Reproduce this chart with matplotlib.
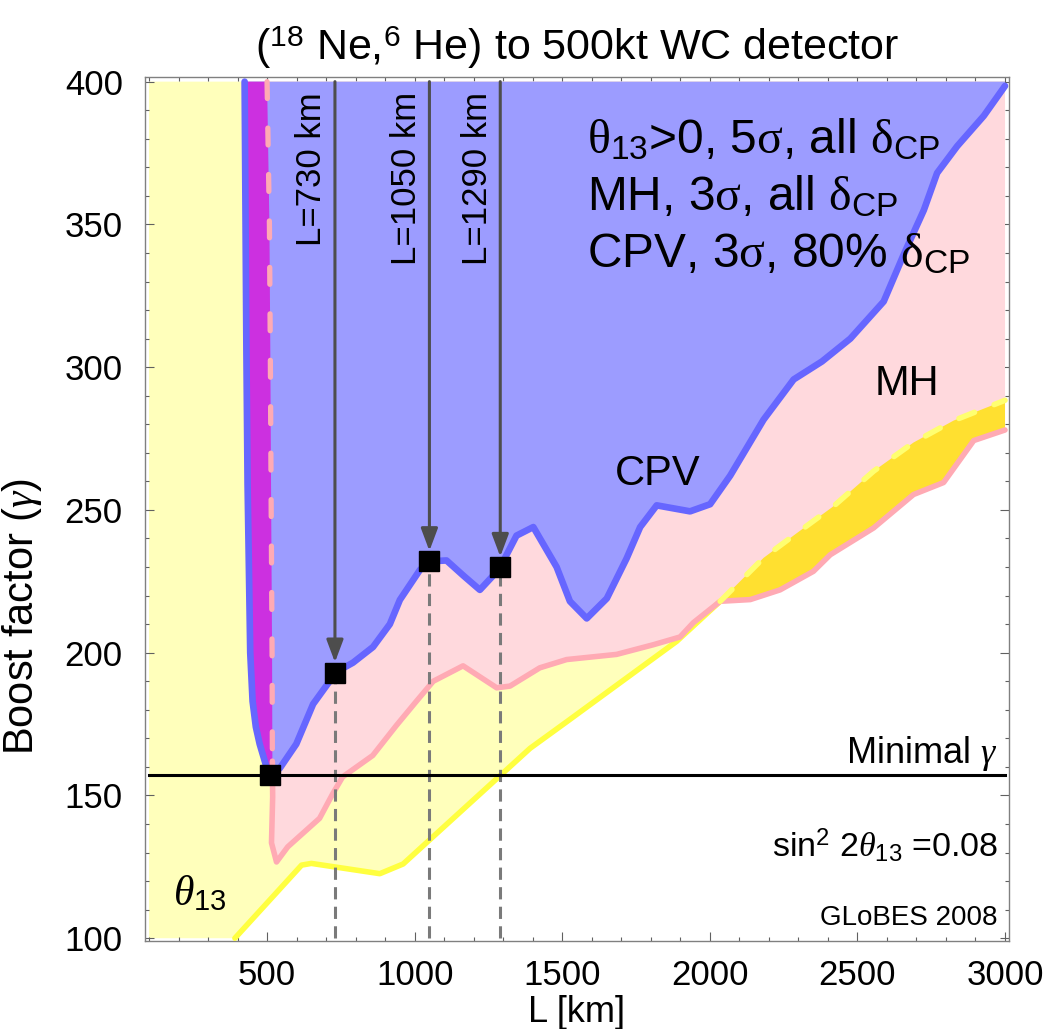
"""Beta-beam boost factor vs baseline: discovery regions (GLoBES style)."""

import matplotlib

matplotlib.use("Agg")
import matplotlib.pyplot as plt

plt.rcParams["font.family"] = ["Liberation Sans", "DejaVu Sans"]
plt.rcParams["mathtext.fontset"] = "custom"
plt.rcParams["mathtext.rm"] = "Liberation Sans"
plt.rcParams["mathtext.it"] = "Liberation Serif:italic"
plt.rcParams["mathtext.sf"] = "Liberation Serif"
plt.rcParams["mathtext.bf"] = "Liberation Sans:bold"

# --- data ---
baselines = [730, 1050, 1290]
gamma_at_baseline = [193, 232, 230]
corner_L, corner_gamma = 510, 157
gamma_min = 157

# CPV (3 sigma, 80% dCP) boundary: steep left edge, then the wiggly right edge
cpv_left_L = [424, 430, 434, 443, 451, 462, 475, 498, 510]
cpv_left_g = [400, 306, 259, 200, 183, 174, 168, 160, 157]
cpv_right_L = [510, 543, 599, 656, 712, 730, 791, 859, 916, 950,
               1018, 1050, 1108, 1165, 1221, 1266, 1290, 1345, 1402, 1481,
               1526, 1583, 1651, 1718, 1764, 1820, 1933, 2001, 2069, 2182,
               2284, 2380, 2476, 2589, 2657, 2725, 2770, 2838, 2928, 3000]
cpv_right_g = [157, 159.5, 168, 182, 190, 193, 196.5, 202, 210, 218.5,
               229, 232, 232.3, 227, 222, 227, 230, 241, 244, 230,
               218, 212, 219, 233, 244, 251.6, 249.5, 252, 262, 281.6,
               295.7, 302, 310, 323, 339.5, 355, 368, 377.4, 388, 398.5]

# MH (3 sigma) boundary: left edge (dashed) then lower edge
mh_left_L = [500, 508, 511, 514, 517, 518]
mh_left_g = [400, 350, 306, 250, 200, 162]
mh_L = [518, 519, 515, 532, 570, 678, 722, 756, 858, 938,
        1006, 1063, 1164, 1278, 1323, 1424, 1515, 1684, 1809, 1899,
        1944, 2035, 2137, 2238, 2351, 2408, 2555, 2690, 2792, 2894, 3000]
mh_g = [162, 149.5, 133.4, 126.7, 132, 142, 150.5, 156.5, 164, 174.5,
        183, 190, 195.4, 187.7, 188.3, 194.7, 197.6, 199.4, 202.8, 205.5,
        210.5, 218, 218.6, 222, 228.5, 234.3, 243.7, 255.4, 259.6, 274.3, 278]

# theta13 > 0 (5 sigma) boundary, solid part and dashed part
th_L = [391, 617, 650, 882, 961, 1391, 1515, 1888, 2035]
th_g = [100, 125.6, 126.2, 122.6, 126, 166.5, 175.8, 204, 218]
th_hi_L = [2035, 2182, 2295, 2419, 2555, 2690, 2826, 3000]
th_hi_g = [218, 233.2, 241.9, 251.3, 263.6, 273.6, 281.3, 288.4]

L_min, L_max = 100, 3000
g_min, g_max = 100, 400

# colours
c_yellow_fill = "#FFFFBB"
c_yellow_line = "#FFFF40"
c_pink_fill = "#FFD9DD"
c_pink_line = "#FFAAB4"
c_gold = "#FFE030"
c_gold_dash = "#FFFF70"
c_blue_fill = "#9C9CFF"
c_blue_line = "#6666FF"
c_magenta = "#CC30E0"

fig = plt.figure(figsize=(10.47, 10.29), dpi=100)
ax = fig.add_axes([145 / 1047, 1 - 940.5 / 1029, 864 / 1047, 864 / 1029])

# --- filled regions ---
ax.fill([L_min, L_min] + th_L + th_hi_L[1:] + [L_max],
        [g_max, g_min] + th_g + th_hi_g[1:] + [g_max],
        color=c_yellow_fill, lw=0, zorder=1)
ax.fill(mh_left_L + mh_L[1:] + [L_max],
        mh_left_g + mh_g[1:] + [g_max],
        color=c_pink_fill, lw=0, zorder=2)
i0 = mh_L.index(th_hi_L[0])
ax.fill(th_hi_L + mh_L[i0:][::-1], th_hi_g + mh_g[i0:][::-1],
        color=c_gold, lw=0, zorder=3)
ax.fill(cpv_left_L + cpv_right_L[1:] + [L_max],
        cpv_left_g + cpv_right_g[1:] + [g_max],
        color=c_blue_fill, lw=0, zorder=4)
ax.fill(cpv_left_L + mh_left_L[::-1], cpv_left_g + mh_left_g[::-1],
        color=c_magenta, lw=0, zorder=5)

# --- boundaries ---
ax.plot(th_L, th_g, color=c_yellow_line, lw=4.0, zorder=6,
        solid_capstyle="round", solid_joinstyle="round")
ax.plot(th_hi_L, th_hi_g, color=c_gold_dash, lw=4.0, zorder=6.5,
        dashes=(3.0, 3.8), dash_capstyle="round")
ax.plot(mh_L, mh_g, color=c_pink_line, lw=4.0, zorder=6,
        solid_capstyle="round", solid_joinstyle="round")
ax.plot(cpv_left_L + cpv_right_L[1:], cpv_left_g + cpv_right_g[1:],
        color=c_blue_line, lw=4.8, zorder=7, solid_capstyle="round",
        solid_joinstyle="round")
ax.plot(mh_left_L, mh_left_g, color=c_pink_line, lw=3.8, zorder=7.5,
        dashes=(3.2, 5.6), dash_capstyle="round")

# minimal gamma
ax.plot([L_min, L_max], [gamma_min, gamma_min], color="black", lw=2.2,
        zorder=9)

# baselines: arrows from the top, dashed drop lines below the points
for L, g in zip(baselines, gamma_at_baseline):
    ax.plot([L, L], [g_min, g], color="#7a7a7a", lw=2.2, dashes=(4, 2.4),
            zorder=8)
    ax.annotate("", xy=(L, g), xytext=(L, g_max),
                arrowprops=dict(arrowstyle="-|>,head_length=0.4,head_width=0.15",
                                color="#4d4d4d", lw=2.2, mutation_scale=34,
                                shrinkA=0, shrinkB=7.5),
                zorder=10)
    ax.text(L - 78, 396.4, f"L={L} km", rotation=90, ha="center", va="top",
            fontsize=25, zorder=12)

ax.plot(baselines + [corner_L], gamma_at_baseline + [corner_gamma],
        ls="none", marker="s", ms=15, color="black", zorder=11)

# --- annotations ---
legend_lines = [
    r"$\mathsf{θ}_{13}$>0, 5$\mathsf{σ}$, all $\mathsf{δ}_{\mathrm{CP}}$",
    r"MH, 3$\mathsf{σ}$, all $\mathsf{δ}_{\mathrm{CP}}$",
    r"CPV, 3$\mathsf{σ}$, 80% $\mathsf{δ}_{\mathrm{CP}}$",
]
for txt, yb in zip(legend_lines, [375.0, 355.0, 335.1]):
    ax.text(1584, yb, txt, fontsize=34.5, ha="left", va="baseline", zorder=12)

ax.text(2559, 290.3, "MH", fontsize=30, ha="left", va="baseline", zorder=12)
ax.text(1824, 258.7, "CPV", fontsize=30, ha="center", va="baseline",
        zorder=12)
ax.text(2976, 161.4, r"Minimal $\gamma$", fontsize=26, ha="right",
        va="baseline", zorder=12)
ax.text(2976, 128.8, r"sin$^{2}$ 2$\theta_{13}$ =0.08", fontsize=24.5,
        ha="right", va="baseline", zorder=12)
ax.text(2976, 104.6, "GLoBES 2008", fontsize=20, ha="right", va="baseline",
        zorder=12)
ax.text(181, 111.6, r"$\theta_{13}$", fontsize=30, ha="left", va="baseline",
        zorder=12)

# --- axes ---
ax.set_xlim(86.5, 3013.5)
ax.set_ylim(99.2, 401.8)
ax.set_xticks([500, 1000, 1500, 2000, 2500, 3000])
ax.set_xticks(range(100, 3001, 100), minor=True)
ax.set_yticks([100, 150, 200, 250, 300, 350, 400])
ax.set_yticks(range(100, 401, 10), minor=True)
ax.tick_params(which="both", direction="in", top=True, right=True,
               color="#606060", width=0.8, labelsize=25)
ax.tick_params(which="major", length=6.5)
ax.tick_params(which="minor", length=3.2)
ax.tick_params(axis="x", pad=13)
ax.tick_params(axis="y", pad=16)
for sp in ax.spines.values():
    sp.set_color("#808080")
    sp.set_linewidth(1.0)

ax.set_xlabel("L [km]", fontsize=26)
ax.xaxis.set_label_coords(0.5, -0.063)
ax.set_ylabel(r"Boost factor ($\gamma$)", fontsize=30)
ax.yaxis.set_label_coords(-0.117, 0.375)
ax.set_title(r"($^{18}$ Ne,$^{6}$ He) to 500kt WC detector", fontsize=31,
             pad=12)

fig.savefig("out.png", dpi=100)
